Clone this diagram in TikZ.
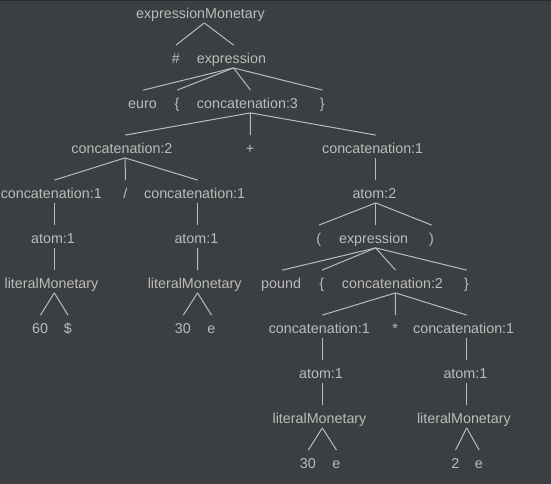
\documentclass[tikz,border=0pt]{standalone}
\usepackage{fontspec}
\setmainfont{Liberation Sans}
\definecolor{bg}{HTML}{3C3F41}
\definecolor{topbar}{HTML}{2B2B2B}
\definecolor{fg}{HTML}{BBBBBB}
\newcommand{\tlabel}[1]{\makebox[1.06\width][l]{#1}}
\begin{document}
\begin{tikzpicture}[x=1pt,y=-1pt,
  tn/.style={anchor=base,inner sep=0pt,text height=18.4pt,text depth=4pt,
    text=fg,font=\fontsize{14.3}{16}\selectfont},
  edge/.style={draw=fg,line width=1pt}]
\fill[bg] (0,0) rectangle (551,484);
\fill[topbar] (0,0) rectangle (551,1.2);
\useasboundingbox (0,0) rectangle (551,484);
% level 0
\node[tn] (r) at (204.3,18.7) {\tlabel{expressionMonetary}};
% level 1
\node[tn] (hash) at (176,63.7) {\tlabel{\#}};
\node[tn] (ex1) at (233.5,63.7) {\tlabel{expression}};
% level 2
\node[tn] (euro) at (143.3,108.7) {\tlabel{euro}};
\node[tn] (lb1) at (177.2,108.7) {\tlabel{\{}};
\node[tn] (c3) at (250.5,108.7) {\tlabel{concatenation:3}};
\node[tn] (rb1) at (322.5,108.7) {\tlabel{\}}};
% level 3
\node[tn] (c2) at (125,153.7) {\tlabel{concatenation:2}};
\node[tn] (plus) at (250.3,153.7) {\tlabel{+}};
\node[tn] (c1R) at (375.7,153.7) {\tlabel{concatenation:1}};
% level 4
\node[tn] (c1a) at (54.3,198.7) {\tlabel{concatenation:1}};
\node[tn] (slash) at (125.5,198.7) {\tlabel{/}};
\node[tn] (c1b) at (197.7,198.7) {\tlabel{concatenation:1}};
\node[tn] (atom2) at (375.7,198.7) {\tlabel{atom:2}};
% level 5
\node[tn] (a1a) at (54.3,243.7) {\tlabel{atom:1}};
\node[tn] (a1b) at (197.7,243.7) {\tlabel{atom:1}};
\node[tn] (lp) at (319.0,243.7) {\tlabel{(}};
\node[tn] (ex2) at (375.7,243.7) {\tlabel{expression}};
\node[tn] (rp) at (431.7,243.7) {\tlabel{)}};
% level 6
\node[tn] (lm1) at (54.3,288.7) {\tlabel{literalMonetary}};
\node[tn] (lm2) at (197.5,288.7) {\tlabel{literalMonetary}};
\node[tn] (pound) at (282.3,288.7) {\tlabel{pound}};
\node[tn] (lb2) at (322.0,288.7) {\tlabel{\{}};
\node[tn] (c2b) at (395.5,288.7) {\tlabel{concatenation:2}};
\node[tn] (rb2) at (466.7,288.7) {\tlabel{\}}};
% level 7
\node[tn] (n60) at (40.5,333.7) {\tlabel{60}};
\node[tn] (dol) at (68.0,333.7) {\tlabel{\$}};
\node[tn] (n30a) at (183.3,333.7) {\tlabel{30}};
\node[tn] (e1) at (211.5,333.7) {\tlabel{e}};
\node[tn] (c1c) at (322.3,333.7) {\tlabel{concatenation:1}};
\node[tn] (star) at (395.3,333.7) {\tlabel{*}};
\node[tn] (c1d) at (466.7,333.7) {\tlabel{concatenation:1}};
% level 8
\node[tn] (a1c) at (322.3,378.7) {\tlabel{atom:1}};
\node[tn] (a1d) at (466.7,378.7) {\tlabel{atom:1}};
% level 9
\node[tn] (lm3) at (322.3,423.7) {\tlabel{literalMonetary}};
\node[tn] (lm4) at (466.7,423.7) {\tlabel{literalMonetary}};
% level 10
\node[tn] (n30b) at (308.3,468.7) {\tlabel{30}};
\node[tn] (e2) at (336.5,468.7) {\tlabel{e}};
\node[tn] (n2) at (455.5,468.7) {\tlabel{2}};
\node[tn] (e3) at (479.2,468.7) {\tlabel{e}};
% edges
\foreach \p/\c in {r/hash,r/ex1,
  ex1/euro,ex1/lb1,ex1/c3,ex1/rb1,
  c3/c2,c3/plus,c3/c1R,
  c2/c1a,c2/slash,c2/c1b,c1R/atom2,
  c1a/a1a,c1b/a1b,atom2/lp,atom2/ex2,atom2/rp,
  a1a/lm1,a1b/lm2,ex2/pound,ex2/lb2,ex2/c2b,ex2/rb2,
  lm1/n60,lm1/dol,lm2/n30a,lm2/e1,c2b/c1c,c2b/star,c2b/c1d,
  c1c/a1c,c1d/a1d,a1c/lm3,a1d/lm4,
  lm3/n30b,lm3/e2,lm4/n2,lm4/e3}
  \draw[edge] (\p.south) -- (\c.north);
\end{tikzpicture}
\end{document}
